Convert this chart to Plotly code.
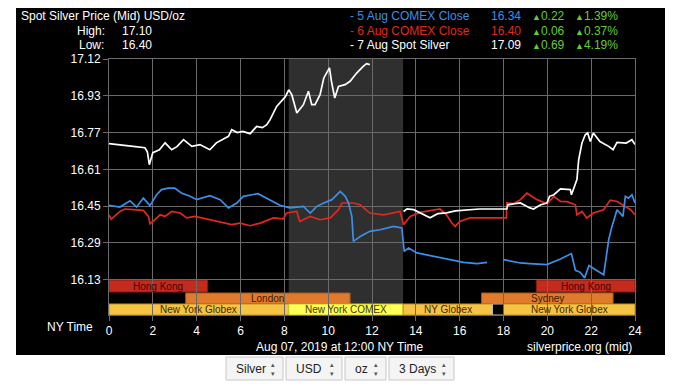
import plotly.graph_objects as go

# ---------------- data (hours NY time, USD/oz) ----------------
hours_spot_7aug = [0.0, 0.3, 0.7, 1.1, 1.64, 1.75, 1.84, 1.92, 2.0, 2.3, 2.56, 2.86, 3.1, 3.4, 3.78,
                   4.15, 4.6, 4.9, 5.2, 5.45, 5.6, 5.85, 6.1, 6.44, 6.74, 7.0, 7.2, 7.35, 7.65, 7.9,
                   8.05, 8.2, 8.34, 8.57, 8.7, 8.87, 9.1, 9.25, 9.4, 9.63, 9.8, 10.06, 10.15, 10.3,
                   10.47, 10.77, 11.0, 11.3, 11.6, 11.75, 11.9,
                   12.5,
                   13.44, 13.6, 13.9, 14.2, 14.65, 15.0, 15.4, 15.8, 16.2, 16.9, 18.15, 18.2, 18.45,
                   18.77, 19.2, 19.37, 19.7, 19.98, 20.1, 20.3, 20.6, 20.9, 21.05, 21.1, 21.28, 21.35,
                   21.43, 21.58, 21.73, 21.84, 21.96, 22.1, 22.4, 22.8, 23.0, 23.18, 23.6, 23.86, 24.0]
price_spot_7aug = [16.740, 16.736, 16.731, 16.728, 16.722, 16.704, 16.646, 16.677, 16.700, 16.713,
                   16.744, 16.713, 16.727, 16.758, 16.728, 16.736, 16.713, 16.744, 16.758, 16.773,
                   16.803, 16.790, 16.795, 16.785, 16.818, 16.812, 16.825, 16.848, 16.907, 16.937,
                   16.951, 16.982, 16.960, 16.878, 16.893, 16.915, 16.975, 16.915, 16.915, 16.960,
                   17.035, 17.080, 17.020, 16.945, 16.997, 17.005, 17.020, 17.057, 17.087, 17.099,
                   17.095,
                   None,
                   16.436, 16.448, 16.444, 16.430, 16.408, 16.426, 16.430, 16.439, 16.441, 16.447,
                   16.447, 16.466, 16.470, 16.474, 16.452, 16.447, 16.466, 16.474, 16.504, 16.511,
                   16.537, 16.534, 16.534, 16.511, 16.564, 16.579, 16.668, 16.743, 16.780, 16.788,
                   16.750, 16.788, 16.750, 16.728, 16.713, 16.746, 16.743, 16.758, 16.736]

hours_comex_5aug = [0.0, 0.25, 0.5, 0.96, 1.26, 1.57, 1.87, 2.17, 2.4, 2.7, 3.0, 3.3, 3.7, 4.0, 4.6,
                    5.07, 5.45, 5.83, 6.13, 6.8, 7.35, 7.8, 8.26, 8.87, 9.18, 9.48, 9.8, 10.17, 10.55,
                    10.78, 10.93, 11.08, 11.15, 11.46, 11.9, 12.37, 12.98, 13.36, 13.47, 13.67, 14.05,
                    14.66, 15.4, 16.18, 16.8, 17.25,
                    17.6,
                    18.0, 18.46, 18.77, 19.2, 19.98, 20.6, 21.1, 21.28, 21.5, 21.7, 21.9, 22.2, 22.57,
                    22.8, 22.95, 23.18, 23.33, 23.45, 23.56, 23.7, 23.86, 24.0]
price_comex_5aug = [16.463, 16.459, 16.456, 16.484, 16.456, 16.496, 16.462, 16.511, 16.534, 16.541,
                    16.541, 16.519, 16.504, 16.489, 16.507, 16.489, 16.452, 16.474, 16.504, 16.516,
                    16.489, 16.464, 16.452, 16.459, 16.429, 16.459, 16.474, 16.489, 16.526, 16.504,
                    16.474, 16.414, 16.302, 16.324, 16.347, 16.354, 16.369, 16.362, 16.257, 16.272,
                    16.250, 16.238, 16.223, 16.208, 16.202, 16.208,
                    None,
                    16.220, 16.212, 16.205, 16.202, 16.198, 16.223, 16.247, 16.172, 16.163, 16.138,
                    16.193, 16.175, 16.152, 16.309, 16.369, 16.444, 16.429, 16.414, 16.504, 16.496,
                    16.511, 16.474]

hours_comex_6aug = [0.0, 0.1, 0.5, 0.73, 1.1, 1.57, 1.8, 1.87, 2.1, 2.33, 2.56, 2.86, 3.24, 3.55,
                    3.93, 4.23, 4.6, 5.07, 5.6, 5.98, 6.44, 6.9, 7.5, 7.96, 8.1, 8.57, 8.7, 9.18,
                    9.63, 10.1, 10.47, 10.63, 11.15, 11.46, 11.9, 12.53, 12.98, 13.28, 13.44, 13.74,
                    14.2, 15.1, 15.4, 15.64, 15.8, 16.0, 16.48, 16.94, 18.13, 18.15, 18.46, 18.77,
                    19.07, 19.53, 20.0, 20.3, 20.6, 20.9, 21.28, 21.35, 21.58, 21.8, 22.1, 22.57,
                    22.87, 23.18, 23.48, 23.8, 24.0]
price_comex_6aug = [16.421, 16.402, 16.436, 16.447, 16.444, 16.441, 16.414, 16.381, 16.399, 16.421,
                    16.414, 16.436, 16.429, 16.407, 16.414, 16.407, 16.399, 16.387, 16.377, 16.384,
                    16.372, 16.384, 16.407, 16.403, 16.429, 16.436, 16.391, 16.414, 16.399, 16.407,
                    16.444, 16.474, 16.474, 16.466, 16.429, 16.421, 16.429, 16.436, 16.377, 16.414,
                    16.432, 16.447, 16.421, 16.384, 16.369, 16.391, 16.407, 16.407, 16.407, 16.474,
                    16.471, 16.489, 16.518, 16.489, 16.471, 16.504, 16.481, 16.480, 16.466, 16.421,
                    16.436, 16.407, 16.429, 16.444, 16.487, 16.481, 16.462, 16.444, 16.421]

x_ticks = list(range(0, 25, 2))
y_tick_labels = ["17.12", "16.93", "16.77", "16.61", "16.45", "16.29", "16.13"]
y_tick_values = [17.12 - 0.165 * k for k in range(7)]

comex_shade = (8.2, 13.42)

session_names = ["Hong Kong", "Hong Kong", "London", "Sydney", "New York Globex",
                 "New York COMEX", "NY Globex", "", "New York Globex"]
session_start = [0, 19.5, 3.5, 17, 0, 8.2, 13.42, 17.5, 18]
session_end = [4.5, 24, 11, 23, 8.2, 13.42, 17.5, 18, 24]
session_row = [0, 0, 1, 1, 2, 2, 2, 2, 2]

legend_names = ["- 5 Aug COMEX Close", "- 6 Aug COMEX Close", "- 7 Aug Spot Silver"]
legend_close = ["16.34", "16.40", "17.09"]
legend_change = ["0.22", "0.06", "0.69"]
legend_pct = ["1.39%", "0.37%", "4.19%"]

dropdowns = ["Silver", "USD", "oz", "3 Days"]

# ---------------- layout helpers ----------------
OFF = 8                      # page body margin of the html page
W, H = 690 - OFF, 388 - OFF
L, R, T, B = 109, 635, 59, 315   # plot area in screen pixels
def px(x):
    return (x - L) / (R - L)
def py(y):
    return (B - y) / (B - T)

BLUE = "#3d8fe6"
RED = "#e0281e"
WHITE = "#ffffff"
GREEN = "#66cc33"
FONT = "Liberation Sans, Arial, sans-serif"

fig = go.Figure()
fig.add_trace(go.Scatter(x=hours_comex_6aug, y=price_comex_6aug, mode="lines",
                         line=dict(color=RED, width=1.7), hoverinfo="skip", showlegend=False))
fig.add_trace(go.Scatter(x=hours_comex_5aug, y=price_comex_5aug, mode="lines",
                         line=dict(color=BLUE, width=1.7), hoverinfo="skip", showlegend=False,
                         connectgaps=False))
fig.add_trace(go.Scatter(x=hours_spot_7aug, y=price_spot_7aug, mode="lines",
                         line=dict(color=WHITE, width=1.7), hoverinfo="skip", showlegend=False,
                         connectgaps=False))

shapes = []
shapes.append(dict(type="rect", xref="paper", yref="paper", x0=px(16), x1=px(665),
                   y0=py(355), y1=py(8), fillcolor="black", line=dict(width=0), layer="below"))
shapes.append(dict(type="rect", xref="x", yref="paper", x0=comex_shade[0], x1=comex_shade[1],
                   y0=0, y1=1, fillcolor="#2f2f2f", line=dict(width=0), layer="below"))

row_pix = [(280, 292), (293, 303.5), (304, 315)]
fill_map = {"Hong Kong": "#c42a1e", "London": "#e07a2c", "Sydney": "#e07a2c",
            "New York Globex": "#f5c445", "NY Globex": "#f5c445", "New York COMEX": "#ffff55",
            "": "#000000"}
edge_map = {"Hong Kong": "#8a1a10", "London": "#a85a1a", "Sydney": "#a85a1a",
            "New York Globex": "#c09020", "NY Globex": "#c09020", "New York COMEX": "#c8c830",
            "": "#bbbbbb"}
text_map = {"Hong Kong": "#3a0804", "London": "#3a1a04", "Sydney": "#3a1a04",
            "New York Globex": "#3a2804", "NY Globex": "#3a2804", "New York COMEX": "#3a3a04",
            "": "#000000"}
annotations = []
for name, s, e, r in zip(session_names, session_start, session_end, session_row):
    y_top, y_bot = row_pix[r]
    shapes.append(dict(type="rect", xref="x", yref="paper", x0=s, x1=e, y0=py(y_bot), y1=py(y_top),
                       fillcolor=fill_map[name], line=dict(color=edge_map[name], width=1),
                       layer="below"))
    if name:
        annotations.append(dict(x=(s + e) / 2, y=py((y_top + y_bot) / 2), xref="x", yref="paper",
                                text=name, showarrow=False, xanchor="center", yanchor="middle",
                                font=dict(family=FONT, size=10, color=text_map[name])))

def txt(x, y, text, color="white", size=12, anchor="left"):
    annotations.append(dict(x=px(x), y=py(y), xref="paper", yref="paper", text=text,
                            showarrow=False, xanchor=anchor, yanchor="middle",
                            font=dict(family=FONT, size=size, color=color)))

# header
txt(19, 16, "Spot Silver Price (Mid) USD/oz")
txt(107, 31, "High:", anchor="right")
txt(120, 31, "17.10")
txt(106, 45, "Low:", anchor="right")
txt(120, 45, "16.40")

leg_colors = [BLUE, RED, WHITE]
for i, (n, c, ch, pc) in enumerate(zip(legend_names, legend_close, legend_change, legend_pct)):
    yy = 16 + 14.5 * i
    txt(348, yy, n, color=leg_colors[i])
    txt(489, yy, c, color=leg_colors[i])
    txt(530, yy, "<span style='font-size:9px'>▲</span>" + ch, color=GREEN)
    txt(573, yy, "<span style='font-size:9px'>▲</span>" + pc, color=GREEN)

# footer
txt(95, 327, "NY Time", anchor="right")
txt(339.5, 347, "Aug 07, 2019 at 12:00 NY Time", anchor="center")
txt(579, 347, "silverprice.org (mid)", anchor="center")

# dropdown boxes
dd_boxes = [(226, 283), (286, 342), (345, 386), (389, 454)]
for label, (x0, x1) in zip(dropdowns, dd_boxes):
    shapes.append(dict(type="rect", xref="paper", yref="paper", x0=px(x0), x1=px(x1),
                       y0=py(380), y1=py(357), fillcolor="#f4f4f4",
                       line=dict(color="#c8c8c8", width=1), layer="below"))
    txt(x0 + 8, 369, label, color="#222222", size=12)
    txt(x1 - 10, 369, "▴<br>▾", color="#555555", size=7, anchor="center")

fig.update_layout(
    width=W, height=H,
    margin=dict(l=L - OFF, r=(W + OFF) - R, t=T - OFF, b=(H + OFF) - B, pad=0),
    paper_bgcolor="white", plot_bgcolor="black",
    shapes=shapes, annotations=annotations,
    xaxis=dict(range=[0, 24], tickvals=x_ticks, ticktext=[str(v) for v in x_ticks],
               showgrid=True, gridcolor="#6a6a6a", gridwidth=1, zeroline=False,
               showline=True, linecolor="#6a6a6a", mirror=True,
               ticks="outside", ticklen=5, tickcolor="#6a6a6a",
               tickfont=dict(family=FONT, size=12, color="white"), fixedrange=True),
    yaxis=dict(range=[17.12 - (B - T) * 0.004486, 17.12], tickvals=y_tick_values,
               ticktext=y_tick_labels,
               showgrid=True, gridcolor="#6a6a6a", gridwidth=1, zeroline=False,
               showline=True, linecolor="#6a6a6a", mirror=True,
               ticks="outside", ticklen=5, tickcolor="#6a6a6a",
               tickfont=dict(family=FONT, size=12, color="white"), fixedrange=True),
    showlegend=False,
)

fig.write_html("out.html")
